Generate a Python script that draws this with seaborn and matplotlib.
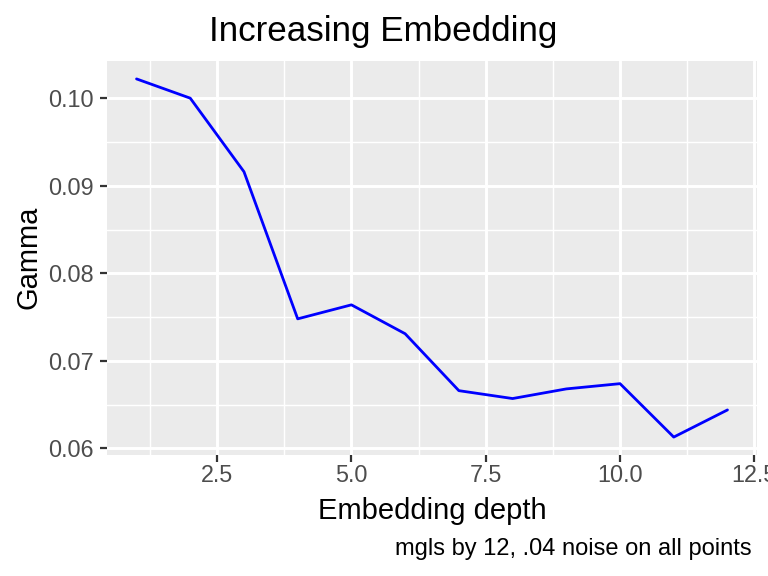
import numpy as np
import pandas as pd
import matplotlib
matplotlib.use("Agg")
import matplotlib.pyplot as plt
import seaborn as sns
from matplotlib.ticker import MultipleLocator

# data
depth = [1, 2, 3, 4, 5, 6, 7, 8, 9, 10, 11, 12]
gamma = [0.1022, 0.1000, 0.0916, 0.0748, 0.0764, 0.0731, 0.0666, 0.0657,
         0.0668, 0.0674, 0.0613, 0.0644]
xticks = [2.5, 5.0, 7.5, 10.0, 12.5]
xtick_labels = ["2.5", "5.0", "7.5", "10.0", "12.5"]
yticks = [0.06, 0.07, 0.08, 0.09, 0.10]
ytick_labels = ["0.06", "0.07", "0.08", "0.09", "0.10"]
df = pd.DataFrame({"depth": depth, "gamma": gamma})

sns.set_theme(style="darkgrid", rc={
    "axes.facecolor": "#EBEBEB",
    "grid.color": "white",
})
plt.rcParams["font.family"] = ["Liberation Sans", "DejaVu Sans"]

fig = plt.figure(figsize=(7.68, 5.76), dpi=100)
ax = fig.add_axes([0.1393, 0.2101, 0.8464, 0.684])

sns.lineplot(data=df, x="depth", y="gamma", color="blue", linewidth=2.0, ax=ax)

# ggplot style 5% expansion
xr = max(depth) - min(depth)
yr = max(gamma) - min(gamma)
ax.set_xlim(min(depth) - 0.05 * xr, max(depth) + 0.05 * xr)
ax.set_ylim(min(gamma) - 0.05 * yr, max(gamma) + 0.05 * yr)

ax.xaxis.set_minor_locator(MultipleLocator(1.25))
ax.yaxis.set_minor_locator(MultipleLocator(0.005))
ax.set_xticks(xticks)
ax.set_xticklabels(xtick_labels)
ax.set_yticks(yticks)
ax.set_yticklabels(ytick_labels)
ax.grid(which="major", color="white", linewidth=2.1)
ax.grid(which="minor", color="white", linewidth=1.05)
ax.set_axisbelow(True)

ax.tick_params(axis="both", which="major", length=5, width=1.6, color="#333333",
               labelsize=16.8, labelcolor="#4D4D4D", bottom=True, left=True)
ax.tick_params(axis="x", which="major", pad=1.5)
ax.tick_params(axis="y", which="major", pad=4.5)
ax.tick_params(which="minor", length=0)
for s in ax.spines.values():
    s.set_visible(False)

ax.set_xlabel("")
ax.set_ylabel("")
fig.text(0.5625, 1 - 519 / 576, "Embedding depth", ha="center", va="baseline",
         fontsize=21, color="black")
fig.text(37 / 768, 0.553, "Gamma", ha="center", va="baseline", rotation=90,
         rotation_mode="anchor", fontsize=21, color="black")
fig.text(0.4995, 1 - 41 / 576, "Increasing Embedding", ha="center", va="baseline",
         fontsize=25.2, color="black")
fig.text(0.979, 1 - 555 / 576, "mgls by 12, .04 noise on all points", ha="right",
         va="baseline", fontsize=17, color="black")

fig.savefig("out.png", dpi=100)
